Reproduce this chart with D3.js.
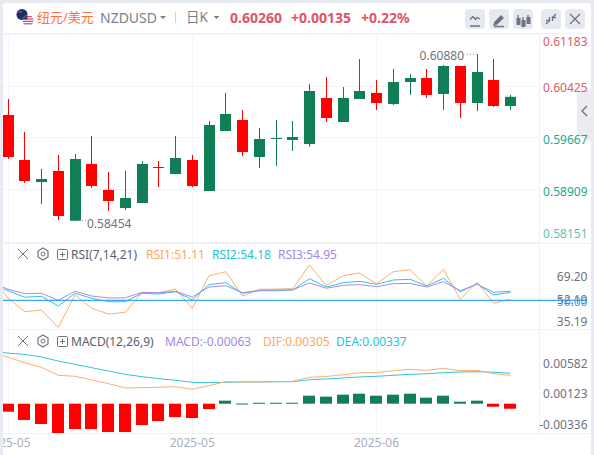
<!DOCTYPE html>
<html>
<head>
<meta charset="utf-8">
<script src="https://cdn.jsdelivr.net/npm/d3@7"></script>
<style>
  html, body { margin: 0; padding: 0; background: #fff; overflow: hidden; }
  svg { display: block; }
  text { font-family: "Noto Sans", "Noto Sans CJK SC", sans-serif; }
</style>
</head>
<body>
<div id="visualization"></div>
<script>
// Candle values
const opens  = [.59995,.59339,.59018,.59179,.58454,.59281,.58902,.58639,.58712,.59237,.59135,.59339,.58887,.59762,.59922,.59383,.59645,.59631,.59572,.60243,.59893,.60228,.60316,.60155,.60476,.60534,.60301,.60709,.60170,.60505,.60126];
const closes = [.59383,.59033,.59062,.58523,.59354,.58960,.58741,.58785,.59281,.59222,.59368,.58960,.59849,.60010,.59456,.59645,.59660,.59674,.60345,.59951,.60243,.60345,.60170,.60476,.60534,.60287,.60709,.60170,.60622,.60126,.60260];
const highs  = [.60228,.59747,.59208,.59412,.59426,.59689,.59164,.59179,.59324,.59324,.59689,.59412,.59908,.60316,.60068,.59805,.59922,.59908,.60447,.60549,.60403,.60811,.60505,.60666,.60593,.60666,.60724,.60709,.60880,.60811,.60287];
const lows   = [.59354,.59004,.58698,.58464,.58454,.58931,.58596,.58610,.58712,.58945,.59135,.58945,.58887,.59762,.59397,.59222,.59252,.59470,.59529,.59893,.59893,.60228,.60068,.60141,.60287,.60243,.60068,.59951,.60053,.60112,.60068];

// RSI and MACD lines start one bar before the visible range
const rsi1 = [67.7,51.8,41.5,42.7,29.4,54.1,44.0,39.7,41.0,55.8,55.8,58.6,44.0,68.7,71.7,53.3,58.4,58.6,58.9,76.8,61.1,68.7,70.7,62.6,71.7,73.2,60.9,73.5,50.8,63.7,47.8,51.11];
const rsi2 = [62.6,57.3,52.4,53.1,45.8,55.4,51.6,49.0,49.0,55.4,54.8,56.6,50.5,61.9,63.4,55.4,57.3,57.3,57.9,66.4,60.1,63.4,64.4,62.2,65.4,66.0,60.9,66.7,56.4,62.6,54.1,56.1];
const rsi3 = [64.2,58.4,55.1,55.4,50.1,56.9,53.3,51.8,52.0,56.1,55.8,56.9,52.6,60.1,61.1,55.8,57.6,57.9,57.9,63.2,59.2,61.4,61.9,60.4,62.6,62.9,60.1,64.1,57.3,62.2,56.1,56.9];
const dif = [.00646,.00580,.00494,.00425,.00305,.00290,.00235,.00179,.00115,.00119,.00125,.00134,.00095,.00149,.00209,.00205,.00205,.00209,.00215,.00275,.00287,.00314,.00344,.00347,.00374,.00395,.00380,.00410,.00374,.00380,.00329,.00305];
const dea = [.00670,.00639,.00620,.00580,.00520,.00470,.00419,.00370,.00320,.00284,.00254,.00230,.00200,.00194,.00200,.00205,.00205,.00208,.00209,.00239,.00250,.00265,.00280,.00290,.00305,.00320,.00329,.00344,.00355,.00359,.00350,.00337];
const hist = [-.00100,-.00204,-.00254,-.00367,-.00317,-.00317,-.00354,-.00354,-.00267,-.00217,-.00167,-.00179,-.00067,.00038,.00002,.00012,.00012,.00012,.00100,.00088,.00113,.00125,.00100,.00113,.00125,.00075,.00100,.00025,.00038,-.00038,-.00063];

// Tick labels
const priceTicks = [0.61183, 0.60425, 0.59667, 0.58909, 0.58151];
const rsiTicks = [69.20, 52.19, 35.19];
const macdTicks = ["0.00582", "0.00123", "-0.00336"];
const dateTicks = [{bar: 0, label: "2025-05"}, {bar: 11, label: "2025-05"}, {bar: 22, label: "2025-06"}];

const RED = "#ff0000", GREEN = "#107f56";
const UP_TXT = "#e2596a", DOWN_TXT = "#17a98f", GREY = "#6f7380";

const svg = d3.select("#visualization").append("svg")
    .attr("width", 594).attr("height", 455);

// Page frame
svg.append("rect").attr("width", 594).attr("height", 455).attr("fill", "#e8ebf2");
svg.append("rect").attr("x", 3).attr("y", 3).attr("width", 588).attr("height", 460).attr("rx", 3).attr("fill", "#fff");

svg.append("defs").append("clipPath").attr("id", "plot")
    .append("rect").attr("x", 3).attr("y", 33).attr("width", 537).attr("height", 400);

// Scales
const x = d3.scaleLinear().domain([0, 30]).range([8, 510.5]);
const y = d3.scaleLinear().domain([0.58151, 0.61183]).range([241.5, 33.5]);
const yRsi = d3.scaleLinear().domain([35.19, 69.20]).range([320, 275]);
const yLine = d3.scaleLinear().domain([-0.00336, 0.00582]).range([417.9, 356.9]);
const yHist = d3.scaleLinear().domain([-0.004, 0.002]).range([435.7, 387.7]);

// Grid
const grid = svg.append("g").attr("stroke", "#f3f4f8").attr("stroke-width", 1);
priceTicks.forEach(t => grid.append("line")
    .attr("x1", 3).attr("x2", 540).attr("y1", Math.round(y(t)) + .5).attr("y2", Math.round(y(t)) + .5));
dateTicks.forEach(t => grid.append("line")
    .attr("x1", Math.floor(x(t.bar)) + .5).attr("x2", Math.floor(x(t.bar)) + .5).attr("y1", 33).attr("y2", 433));
[[3, 591, 33.5, 33.5], [3, 591, 243.5, 243.5], [3, 591, 329.5, 329.5], [3, 591, 433.5, 433.5], [539.5, 539.5, 33, 433]]
    .forEach(l => grid.append("line").attr("x1", l[0]).attr("x2", l[1]).attr("y1", l[2]).attr("y2", l[3]).attr("stroke", "#eff1f5"));

// Collapse tab on the right edge, sits under the axis labels
svg.append("path").attr("d", "M594,90 h-12 q-5,0 -5,6 v40 l17,7 z").attr("fill", "#ebebf0");
svg.append("path").attr("d", "M587,106l-5,5l5,5").attr("fill", "none").attr("stroke", "#6f7380").attr("stroke-width", 1.4);

const plot = svg.append("g").attr("clip-path", "url(#plot)");

// Candles
const bars = d3.range(opens.length);
const colorOf = i => closes[i] >= opens[i] ? GREEN : RED;
plot.selectAll(".wick").data(bars).enter().append("line")
    .attr("x1", i => Math.floor(x(i)) + .5).attr("x2", i => Math.floor(x(i)) + .5)
    .attr("y1", i => y(highs[i])).attr("y2", i => y(lows[i]))
    .attr("stroke", colorOf);
plot.selectAll(".body").data(bars).enter().append("rect")
    .attr("x", i => Math.floor(x(i)) - 5)
    .attr("width", 11)
    .attr("y", i => y(Math.max(opens[i], closes[i])))
    .attr("height", i => Math.max(1, Math.abs(y(opens[i]) - y(closes[i]))))
    .attr("fill", colorOf);

// High and low notes
function note(bar, price, txt, anchor, tx, ty, x1, x2) {
    svg.append("text").attr("x", tx).attr("y", ty).attr("text-anchor", anchor)
        .attr("dominant-baseline", "central").attr("font-size", 12).attr("fill", GREY).text(txt);
    svg.append("line").attr("x1", x1).attr("x2", x2).attr("y1", y(price)).attr("y2", y(price))
        .attr("stroke", "#888c98").attr("stroke-dasharray", "1 2");
}
note(28, .60880, "0.60880", "end", 464, 55, 467, 478);
note(4, .58454, "0.58454", "start", 87, 223.5, 76, 87);

// RSI lines
const rsiLine = d3.line().x((d, i) => x(i - 1)).y(d => yRsi(d));
[[rsi1, "#ffae6b"], [rsi2, "#2fc6dc"], [rsi3, "#a98ae8"]].forEach(s => {
    plot.append("path").datum(s[0]).attr("fill", "none").attr("stroke", s[1]).attr("stroke-width", 1).attr("d", rsiLine);
});
svg.append("line").attr("x1", 3).attr("x2", 587).attr("y1", yRsi(50)).attr("y2", yRsi(50))
    .attr("stroke", "#3ea6f2").attr("stroke-width", 1.2);

// MACD
const macdLine = d3.line().x((d, i) => x(i - 1)).y(d => yLine(d));
plot.append("path").datum(dea).attr("fill", "none").attr("stroke", "#2fc6dc").attr("d", macdLine);
plot.append("path").datum(dif).attr("fill", "none").attr("stroke", "#ffae6b").attr("d", macdLine);
plot.selectAll(".hist").data(hist).enter().append("rect")
    .attr("x", (d, i) => Math.floor(x(i)) - 6)
    .attr("width", 12)
    .attr("y", d => d >= 0 ? yHist(d) : yHist(0))
    .attr("height", d => Math.max(1, Math.abs(yHist(d) - yHist(0))))
    .attr("fill", d => d >= 0 ? GREEN : RED);

// Right side labels
const axisText = (txt, ty, color) => svg.append("text").attr("x", 587.5).attr("y", ty)
    .attr("text-anchor", "end").attr("dominant-baseline", "central")
    .attr("font-size", 12).attr("fill", color).text(txt);
priceTicks.forEach((t, i) => {
    const ty = Math.max(41, Math.min(233, y(t) + 1.5));
    axisText(t.toFixed(5), ty, t > 0.6 ? UP_TXT : DOWN_TXT).attr("opacity", i == 4 ? .7 : 1);
});
rsiTicks.forEach(t => axisText(t.toFixed(2), yRsi(t) + 1.5, GREY));
axisText("50.00", yRsi(50) + 1.5, "#3ea6f2");
macdTicks.forEach((t, i) => axisText(t, [363.3, 393.3, 424.3][i], GREY));

// Date labels
const dates = svg.append("g").attr("clip-path", "url(#dateClip)");
svg.select("defs").append("clipPath").attr("id", "dateClip")
    .append("rect").attr("x", 3).attr("y", 433).attr("width", 537).attr("height", 20);
dateTicks.forEach(t => dates.append("text").attr("x", x(t.bar)).attr("y", 442)
    .attr("text-anchor", "middle").attr("dominant-baseline", "central")
    .attr("font-size", 12).attr("fill", "#a9aebb").text(t.label));

// Header
const head = (txt, tx, size, color, weight) => svg.append("text").attr("x", tx).attr("y", 17)
    .attr("dominant-baseline", "central").attr("font-size", size).attr("fill", color)
    .attr("font-weight", weight || 400).text(txt);
head("纽元/美元", 37, 13, "#ff6f42");
head("NZDUSD", 100, 14, "#7b8090");
head("日K", 186, 13.5, "#7b8090");
head("0.60260", 230, 14, "#e05564", 700);
head("+0.00135", 291, 14, "#e05564", 700);
head("+0.22%", 361, 14, "#e05564", 700);
[163, 216.5].forEach(cx => svg.append("path")
    .attr("d", `M${cx - 3},16 h6 l-3,3 z`).attr("fill", "#7b8090"));
svg.append("line").attr("x1", 175.5).attr("x2", 175.5).attr("y1", 12).attr("y2", 23).attr("stroke", "#cfd3dc");

// Flags
const defs = svg.select("defs");
defs.append("clipPath").attr("id", "nz").append("circle").attr("cx", 22).attr("cy", 14.5).attr("r", 5.5);
defs.append("clipPath").attr("id", "us").append("circle").attr("cx", 28).attr("cy", 20.5).attr("r", 5.5);
svg.append("circle").attr("cx", 22).attr("cy", 14.5).attr("r", 5.5).attr("fill", "#1b2f6b");
svg.append("rect").attr("x", 17).attr("y", 11).attr("width", 5).attr("height", 1.5).attr("fill", "#d8283c").attr("clip-path", "url(#nz)");
svg.append("circle").attr("cx", 28).attr("cy", 20.5).attr("r", 5.5).attr("fill", "#fff");
d3.range(4).forEach(i => svg.append("rect").attr("x", 22).attr("y", 16 + i * 2.4).attr("width", 12).attr("height", 1.2)
    .attr("fill", "#d8485a").attr("clip-path", "url(#us)"));
svg.append("rect").attr("x", 22).attr("y", 15).attr("width", 5.5).attr("height", 4.5).attr("fill", "#34477f").attr("clip-path", "url(#us)");

// Toolbar buttons
const icons = [
    [465, "M470,26h10 M470,19.5l3,-3l2.5,3l1.5,-2l3,1.5"],
    [489, "M494,25l1,-3l6,-6l2,2l-6,6z M494,26.5h10"],
    [513, "M518,15v9 M523,17v9 M528,15v9"],
    [541, "M546,24l3.5,-3.5 M556,14l-3.5,3.5"],
    [565, "M570,14l10,10 M580,14l-10,10"]
];
icons.forEach((b, i) => {
    svg.append("rect").attr("x", b[0]).attr("y", 9).attr("width", 20).attr("height", 20).attr("rx", 4).attr("fill", "#e6e9f0");
    svg.append("path").attr("d", b[1]).attr("fill", i == 1 ? "#6f7380" : "none").attr("stroke", "#6f7380").attr("stroke-width", 1.3);
});
[[516, 4, 9], [521, 6, 9], [526, 3, 9]].forEach(r => svg.append("rect").attr("x", r[0] + .5).attr("y", 14 + r[1]).attr("width", 4).attr("height", r[2] - 2).attr("fill", "#6f7380"));
svg.append("path").attr("d", "M549.5,17v3.5h-3.5 M552.5,21v-3.5h3.5").attr("fill", "none").attr("stroke", "#6f7380").attr("stroke-width", 1.3);

// Indicator title rows
function paneTitle(cy, name, items) {
    const g = svg.append("g").attr("fill", "none").attr("stroke", "#6f7380");
    g.append("path").attr("d", `M18,${cy - 5}l10,10 M28,${cy - 5}l-10,10`).attr("stroke-width", 1);
    g.append("path").attr("d", `M43,${cy - 6}l5,3v6l-5,3l-5,-3v-6z`).attr("stroke-width", 1.2);
    g.append("circle").attr("cx", 43).attr("cy", cy).attr("r", 2);
    g.append("rect").attr("x", 57.5).attr("y", cy - 4.5).attr("width", 10).attr("height", 10).attr("rx", 1);
    g.append("path").attr("d", `M60,${cy + .5}h5 M62.5,${cy - 2}v5`);
    svg.append("text").attr("x", 71).attr("y", cy).attr("dominant-baseline", "central")
        .attr("font-size", 12).attr("fill", "#5a5e6a").text(name);
    items.forEach(t => svg.append("text").attr("x", t[1]).attr("y", cy).attr("dominant-baseline", "central")
        .attr("font-size", 12).attr("fill", t[2]).text(t[0]));
}
paneTitle(254, "RSI(7,14,21)", [["RSI1:51.11", 146, "#ffa65e"], ["RSI2:54.18", 212, "#22c3dc"], ["RSI3:54.95", 278, "#a585e8"]]);
paneTitle(341, "MACD(12,26,9)", [["MACD:-0.00063", 165, "#a585e8"], ["DIF:0.00305", 263, "#ffa65e"], ["DEA:0.00337", 336, "#22c3dc"]]);
</script>
</body>
</html>
